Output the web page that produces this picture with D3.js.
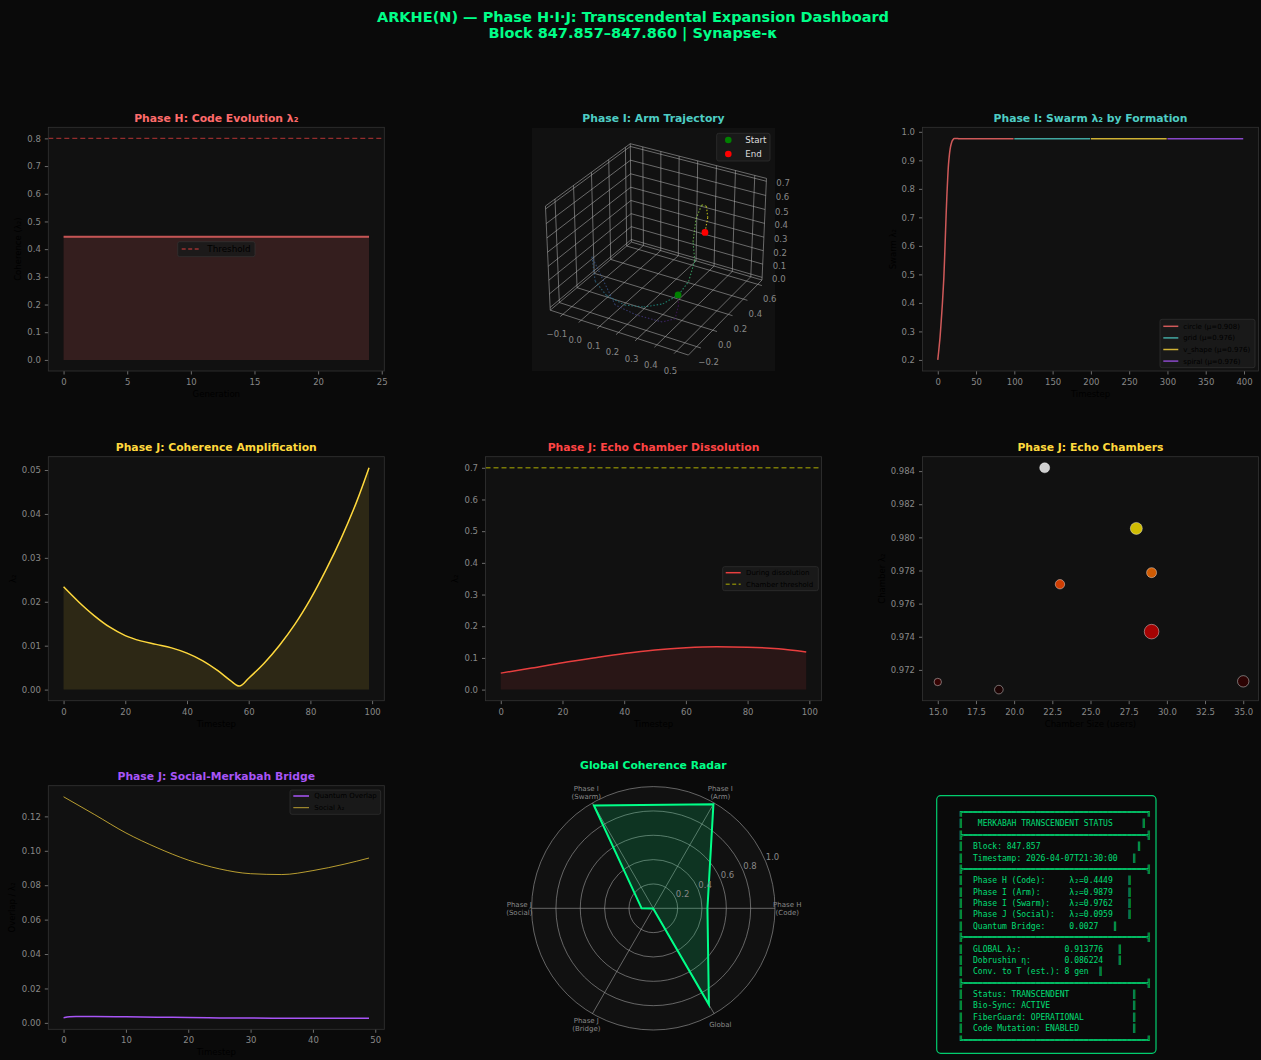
<!DOCTYPE html>
<html><head><meta charset="utf-8">
<script src="https://cdn.jsdelivr.net/npm/d3@7"></script>
<style>
body{margin:0;background:#0a0a0a;}
svg{display:block;font-family:"DejaVu Sans",sans-serif;}
</style>
</head><body>
<svg id="c" width="1261" height="1060"></svg>
<script>
// ---------------- DATA ----------------
const FIG_TITLE = ["ARKHE(N) — Phase H·I·J: Transcendental Expansion Dashboard", "Block 847.857–847.860 | Synapse-κ"];

// Phase H: code evolution
const codeGeneration = [0,1,2,3,4,5,6,7,8,9,10,11,12,13,14,15,16,17,18,19,20,21,22,23,24];
const codeLambda = [0.4449,0.4449,0.4449,0.4449,0.4449,0.4449,0.4449,0.4449,0.4449,0.4449,0.4449,0.4449,0.4449,0.4449,0.4449,0.4449,0.4449,0.4449,0.4449,0.4449,0.4449,0.4449,0.4449,0.4449,0.4449];
const codeThreshold = 0.8;
const codeXTicks = [0,5,10,15,20,25];
const codeYTicks = [0.0,0.1,0.2,0.3,0.4,0.5,0.6,0.7,0.8];

// Phase I: arm trajectory (3D)
const armX = [0.307,0.335,0.377,0.339,0.209,0.078,-0.111,-0.102,0.002,0.118,0.202,0.267,0.300,0.313,0.325,0.323,0.300,0.305,0.331,0.341,0.329];
const armY = [0.171,0.111,-0.029,-0.099,-0.110,-0.077,0.061,0.072,-0.015,-0.050,-0.011,0.075,0.196,0.289,0.336,0.315,0.405,0.463,0.461,0.456,0.453];
const armZ = [0.032,0.000,0.000,0.000,0.000,0.000,0.202,0.017,0.002,0.000,0.000,0.002,0.017,0.069,0.202,0.350,0.461,0.535,0.535,0.461,0.350];
const armXTicks = [-0.1,0.0,0.1,0.2,0.3,0.4,0.5];
const armYTicks = [-0.2,0.0,0.2,0.4,0.6];
const armZTicks = [0.0,0.1,0.2,0.3,0.4,0.5,0.6,0.7];

// Phase I: swarm
const swarmNames = ["circle","grid","v_shape","spiral"];
const swarmMeans = [0.908,0.976,0.976,0.976];
const circleT = [0,1,2,3,4,5,6,7,8,9,10,11,12,13,14,15,16,17,18,19,20,21,22,23,24,25,26,27,28,99];
const circleV = [0.200,0.225,0.252,0.280,0.317,0.356,0.396,0.443,0.493,0.563,0.640,0.715,0.783,0.839,0.885,0.915,0.937,0.952,0.962,0.969,0.973,0.976,0.977,0.977,0.977,0.977,0.977,0.976,0.976,0.976];
const gridT = [100,199];   const gridV = [0.976,0.976];
const vshapeT = [200,299]; const vshapeV = [0.976,0.976];
const spiralT = [300,399]; const spiralV = [0.976,0.976];
const swarmXTicks = [0,50,100,150,200,250,300,350,400];
const swarmYTicks = [0.2,0.3,0.4,0.5,0.6,0.7,0.8,0.9,1.0];

// Phase J: coherence amplification
const ampT = [0,5,10,15,20,25,30,35,40,45,50,54,57,60,65,70,75,80,85,90,95,99];
const ampV = [0.0234,0.0199,0.0168,0.0142,0.0123,0.0111,0.0103,0.0095,0.0083,0.0066,0.0043,0.0021,0.0008,0.0026,0.0060,0.0101,0.0149,0.0206,0.0272,0.0345,0.0428,0.0505];
const ampXTicks = [0,20,40,60,80,100];
const ampYTicks = [0.00,0.01,0.02,0.03,0.04,0.05];

// Phase J: echo chamber dissolution
const dissT = [0,10,20,30,40,50,60,70,80,90,99];
const dissV = [0.052,0.068,0.085,0.100,0.114,0.125,0.132,0.135,0.134,0.129,0.119];
const chamberThreshold = 0.7;
const dissXTicks = [0,20,40,60,80,100];
const dissYTicks = [0.0,0.1,0.2,0.3,0.4,0.5,0.6,0.7];

// Phase J: echo chambers scatter
const chamberSize = [15,19,22,23,28,29,29,35];
const chamberLambda = [0.97127,0.97081,0.98420,0.97717,0.98054,0.97787,0.97431,0.97131];
const chamberHeat = [0.08,0.03,1.00,0.475,0.71,0.53,0.285,0.06];
const chamberMarker = [55,74,100,88,144,100,213,130];
const chamberXTicks = [15,17.5,20,22.5,25,27.5,30,32.5,35];
const chamberYTicks = [0.972,0.974,0.976,0.978,0.980,0.982,0.984];

// Phase J: social-merkabah bridge
const socialT = [0,5,10,15,20,25,30,35,40,45,49];
const socialV = [0.1314,0.1210,0.1104,0.1018,0.0946,0.0895,0.0867,0.0862,0.0885,0.0922,0.0958];
const quantumT = [0,1,2,5,10,15,20,25,30,35,40,45,49];
const quantumV = [0.0030,0.0035,0.0037,0.0037,0.0035,0.0033,0.0031,0.0029,0.0028,0.0027,0.0027,0.0027,0.0027];
const bridgeXTicks = [0,10,20,30,40,50];
const bridgeYTicks = [0.00,0.02,0.04,0.06,0.08,0.10,0.12];

// Radar
const radarLabels = [["Phase H","(Code)"],["Phase I","(Arm)"],["Phase I","(Swarm)"],["Phase J","(Social)"],["Phase J","(Bridge)"],["Global"]];
const radarValues = [0.4449,0.9879,0.9762,0.0959,0.0027,0.913776];
const radarTicks = [0.2,0.4,0.6,0.8,1.0];

// Status panel: [text, column of closing bar]
const statusRows = [
  ["MERKABAH TRANSCENDENT STATUS", "title"],
  ["Block: 847.857", 37],
  ["Timestamp: 2026-04-07T21:30:00", 36],
  ["Phase H (Code):     λ₂=0.4449", 35],
  ["Phase I (Arm):      λ₂=0.9879", 35],
  ["Phase I (Swarm):    λ₂=0.9762", 35],
  ["Phase J (Social):   λ₂=0.0959", 35],
  ["Quantum Bridge:     0.0027", 32],
  ["GLOBAL λ₂:         0.913776", 33],
  ["Dobrushin η:       0.086224", 33],
  ["Conv. to T (est.): 8 gen", 29],
  ["Status: TRANSCENDENT", 36],
  ["Bio-Sync: ACTIVE", 36],
  ["FiberGuard: OPERATIONAL", 36],
  ["Code Mutation: ENABLED", 36]
];
const statusGroups = [[0],[1,2],[3,4,5,6,7],[8,9,10],[11,12,13,14]];

// ---------------- DRAWING ----------------
const svg = d3.select('#c');
svg.append('rect').attr('width',1261).attr('height',1060).attr('fill','#0a0a0a');

svg.selectAll('text.main').data(FIG_TITLE).join('text').attr('class','main')
  .attr('x',633).attr('y',(d,i)=>22+i*16).attr('text-anchor','middle')
  .attr('font-size',14.5).attr('font-weight','bold').attr('fill','#00ff88').text(d=>d);

const padded = (lo,hi,m=0.05)=>{const r=hi-lo; return [lo-r*m, hi+r*m];};
const TITLE_FS = 10.8;

function makePanel(o){
  const g = svg.append('g');
  g.append('rect').attr('x',o.x0).attr('y',o.y0).attr('width',o.w).attr('height',o.h).attr('fill','#111');
  const x = d3.scaleLinear().domain(o.xdom).range([o.x0,o.x0+o.w]);
  const y = d3.scaleLinear().domain(o.ydom).range([o.y0+o.h,o.y0]);
  const plot = g.append('g');
  const ax = g.append('g').attr('transform',`translate(0,${o.y0+o.h})`)
    .call(d3.axisBottom(x).tickValues(o.xticks).tickFormat(o.xfmt).tickSize(3.5).tickPadding(4.5));
  const ay = g.append('g').attr('transform',`translate(${o.x0},0)`)
    .call(d3.axisLeft(y).tickValues(o.yticks).tickFormat(o.yfmt).tickSize(3.5).tickPadding(4));
  [ax,ay].forEach(a=>{
    a.select('.domain').remove();
    a.selectAll('line').attr('stroke','#888').attr('stroke-width',0.8);
    a.selectAll('text').attr('fill','#888').attr('font-size',8.5).attr('font-family','DejaVu Sans');
  });
  g.append('rect').attr('x',o.x0).attr('y',o.y0).attr('width',o.w).attr('height',o.h)
    .attr('fill','none').attr('stroke','#333').attr('stroke-width',0.8);
  g.append('text').attr('x',o.x0+o.w/2).attr('y',o.y0-5.5).attr('text-anchor','middle')
    .attr('font-size',TITLE_FS).attr('font-weight','bold').attr('fill',o.tcolor).text(o.title);
  g.append('text').attr('x',o.x0+o.w/2).attr('y',o.y0+o.h+26).attr('text-anchor','middle')
    .attr('font-size',8.5).attr('fill','#000').text(o.xlabel);
  g.append('text').attr('transform',`translate(${o.ylx},${o.y0+o.h/2}) rotate(-90)`).attr('text-anchor','middle')
    .attr('dy','0.35em').attr('font-size',8.5).attr('fill','#000').text(o.ylabel);
  return {g:plot, x, y};
}

function legend(o){
  const g = svg.append('g');
  g.append('rect').attr('x',o.x).attr('y',o.y).attr('width',o.w).attr('height',o.h).attr('rx',2)
    .attr('fill','#1a1a1a').attr('stroke','#333').attr('stroke-width',0.8).attr('opacity',0.9);
  o.items.forEach((it,i)=>{
    const cy = o.row0 + i*(o.step||0);
    if(it.marker){
      g.append('circle').attr('cx',(o.hx0+o.hx1)/2).attr('cy',cy).attr('r',3.3).attr('fill',it.color);
    } else {
      g.append('line').attr('x1',o.hx0).attr('x2',o.hx1).attr('y1',cy).attr('y2',cy)
        .attr('stroke',it.color).attr('stroke-width',it.w||1.5).attr('stroke-dasharray',it.dash||null).attr('opacity',it.op||1);
    }
    g.append('text').attr('x',o.tx).attr('y',cy).attr('dy','0.35em').attr('font-size',o.fs)
      .attr('fill',o.tc||'#000').text(it.label);
  });
}

const f1 = d3.format('.1f'), f2 = d3.format('.2f'), f3 = d3.format('.3f'), fd = d3.format('d');

// ---- Panel A: Code evolution
{
  const p = makePanel({x0:48.3,y0:127.3,w:336,h:243.7,
    xdom:padded(d3.min(codeGeneration),d3.max(codeGeneration)),
    ydom:padded(0,Math.max(codeThreshold,d3.max(codeLambda))),
    xticks:codeXTicks,yticks:codeYTicks,xfmt:fd,yfmt:f1,
    title:"Phase H: Code Evolution λ₂",tcolor:"#ff6b6b",xlabel:"Generation",ylabel:"Coherence (λ₂)",ylx:18});
  const pts = codeGeneration.map((g,i)=>[g,codeLambda[i]]);
  p.g.append('path').datum(pts).attr('fill','#ff6b6b').attr('opacity',0.15)
    .attr('d',d3.area().x(d=>p.x(d[0])).y0(p.y(0)).y1(d=>p.y(d[1])));
  p.g.append('path').datum(pts).attr('fill','none').attr('stroke','#ff6b6b').attr('stroke-width',2).attr('opacity',0.75)
    .attr('d',d3.line().x(d=>p.x(d[0])).y(d=>p.y(d[1])));
  p.g.append('line').attr('x1',p.x.range()[0]).attr('x2',p.x.range()[1]).attr('y1',p.y(codeThreshold)).attr('y2',p.y(codeThreshold))
    .attr('stroke','#ff4444').attr('stroke-width',1.4).attr('stroke-dasharray','5,3').attr('opacity',0.55);
  legend({x:177.7,y:241.7,w:77.3,h:15,row0:249,hx0:181.7,hx1:200,tx:207.3,fs:8.8,
    items:[{label:"Threshold",color:"#ff4444",dash:"4,2.5",op:0.55,w:1.4}]});
}

// ---- Panel B: 3D arm trajectory
{
  const X0=532,Y0=128,SZ=243;
  svg.append('rect').attr('x',X0).attr('y',Y0).attr('width',SZ).attr('height',SZ).attr('fill','#111');
  svg.append('text').attr('x',X0+SZ/2).attr('y',Y0-6).attr('text-anchor','middle')
    .attr('font-size',TITLE_FS).attr('font-weight','bold').attr('fill','#4ecdc4').text("Phase I: Arm Trajectory");
  const xl=[-0.17,0.56], yl=[-0.3,0.66], zl=[-0.02,0.72];
  const K3 = 1.8294640721620434/Math.sqrt(41);
  const box=[4*K3,4*K3,3*K3];
  const wx=d3.scaleLinear().domain(xl).range([0,box[0]]);
  const wy=d3.scaleLinear().domain(yl).range([0,box[1]]);
  const wz=d3.scaleLinear().domain(zl).range([0,box[2]]);
  const el=30*Math.PI/180, az=-60*Math.PI/180;
  const eye=[Math.cos(el)*Math.cos(az),Math.cos(el)*Math.sin(az),Math.sin(el)];
  const cross=(a,b)=>[a[1]*b[2]-a[2]*b[1],a[2]*b[0]-a[0]*b[2],a[0]*b[1]-a[1]*b[0]];
  const nrm=a=>{const l=Math.hypot(...a);return a.map(v=>v/l);};
  const dot=(a,b)=>a[0]*b[0]+a[1]*b[1]+a[2]*b[2];
  const vu=nrm(cross([0,0,1],eye)), vv=cross(eye,vu), vw=eye;
  const DIST=10, S3=1385, C3=[658,244.5];
  const P=(x,y,z)=>{
    const d=[wx(x)-box[0]/2,wy(y)-box[1]/2,wz(z)-box[2]/2];
    const qz=dot(vw,d)-DIST;
    return [C3[0]+S3*dot(vu,d)/(-qz), C3[1]-S3*dot(vv,d)/(-qz)];
  };
  const g=svg.append('g');
  const [x0,x1]=xl,[y0,y1]=yl,[z0,z1]=zl;
  const segs=[];
  armXTicks.forEach(t=>{segs.push([[t,y1,z0],[t,y1,z1]]); segs.push([[t,y0,z0],[t,y1,z0]]);});
  armYTicks.forEach(t=>{segs.push([[x0,t,z0],[x0,t,z1]]); segs.push([[x0,t,z0],[x1,t,z0]]);});
  armZTicks.forEach(t=>{segs.push([[x0,y0,t],[x0,y1,t]]); segs.push([[x0,y1,t],[x1,y1,t]]);});
  const edges=[[[x0,y0,z0],[x0,y1,z0]],[[x0,y1,z0],[x1,y1,z0]],[[x0,y0,z1],[x0,y1,z1]],[[x0,y1,z1],[x1,y1,z1]],
    [[x0,y0,z0],[x0,y0,z1]],[[x0,y1,z0],[x0,y1,z1]],[[x1,y1,z0],[x1,y1,z1]],[[x0,y0,z0],[x1,y0,z0]],[[x1,y0,z0],[x1,y1,z0]]];
  const ln=d3.line();
  g.selectAll('path.grid').data(segs).join('path').attr('d',s=>ln(s.map(p=>P(...p))))
    .attr('stroke','#b0b0b0').attr('stroke-width',0.8).attr('opacity',0.7).attr('fill','none');
  g.selectAll('path.edge').data(edges).join('path').attr('d',s=>ln(s.map(p=>P(...p))))
    .attr('stroke','#b0b0b0').attr('stroke-width',0.8).attr('opacity',0.7).attr('fill','none');
  const xt=armXTicks.map(t=>[[t,y0,z0],[t,y0-(y1-y0)*0.03,z0]]);
  const yt=armYTicks.map(t=>[[x1,t,z0],[x1+(x1-x0)*0.03,t,z0]]);
  g.selectAll('path.tk').data(xt.concat(yt)).join('path').attr('d',s=>ln(s.map(p=>P(...p))))
    .attr('stroke','#b0b0b0').attr('stroke-width',0.8).attr('opacity',0.7);
  const fm=d3.format('.1f');
  armXTicks.forEach(t=>{const p=P(t,y0,z0); g.append('text').attr('x',p[0]-6).attr('y',p[1]+23).attr('text-anchor','middle').attr('font-size',8.5).attr('fill','#888').text(fm(t));});
  armYTicks.forEach(t=>{const p=P(x1,t,z0); g.append('text').attr('x',p[0]+12).attr('y',p[1]+18).attr('text-anchor','middle').attr('font-size',8.5).attr('fill','#888').text(fm(t));});
  armZTicks.forEach(t=>{const p=P(x1,y1,t); g.append('text').attr('x',p[0]+10).attr('y',p[1]+5).attr('text-anchor','start').attr('font-size',8.5).attr('fill','#888').text(fm(t));});
  const n=armX.length;
  const tp=armX.map((x,i)=>P(x,armY[i],armZ[i]));
  for(let i=0;i<n-1;i++){
    g.append('path').attr('d',ln([tp[i],tp[i+1]])).attr('stroke',d3.interpolateViridis(i/(n-2)))
      .attr('stroke-width',1.1).attr('stroke-dasharray','1.5,1.8').attr('opacity',0.75).attr('fill','none');
  }
  g.append('circle').attr('cx',tp[0][0]).attr('cy',tp[0][1]).attr('r',3.4).attr('fill','#008000');
  g.append('circle').attr('cx',tp[n-1][0]).attr('cy',tp[n-1][1]).attr('r',3.4).attr('fill','#ff0000');
  legend({x:716.7,y:133.3,w:53.3,h:27.7,row0:140,step:14,hx0:724,hx1:732.6,tx:745.3,fs:8.7,tc:'#ddd',
    items:[{label:"Start",color:"#008000",marker:true},{label:"End",color:"#ff0000",marker:true}]});
}

// ---- Panel C: Swarm
{
  const allT=circleT.concat(gridT,vshapeT,spiralT), allV=circleV.concat(gridV,vshapeV,spiralV);
  const p = makePanel({x0:922.5,y0:127.3,w:336,h:243.7,
    xdom:padded(d3.min(allT),d3.max(allT)), ydom:padded(d3.min(allV),d3.max(allV)),
    xticks:swarmXTicks,yticks:swarmYTicks,xfmt:fd,yfmt:f1,
    title:"Phase I: Swarm λ₂ by Formation",tcolor:"#4ecdc4",xlabel:"Timestep",ylabel:"Swarm λ₂",ylx:893});
  const series=[[circleT,circleV,'#ff6b6b'],[gridT,gridV,'#4ecdc4'],[vshapeT,vshapeV,'#ffd93d'],[spiralT,spiralV,'#a855f7']];
  const line=d3.line().x(d=>p.x(d[0])).y(d=>p.y(d[1])).curve(d3.curveMonotoneX);
  series.forEach(s=>{
    p.g.append('path').datum(s[0].map((t,i)=>[t,s[1][i]])).attr('d',line).attr('fill','none')
      .attr('stroke',s[2]).attr('stroke-width',1.5).attr('opacity',0.8);
  });
  legend({x:1160,y:319.3,w:95,h:48.4,row0:326.3,step:11.6,hx0:1163.3,hx1:1178.3,tx:1183.3,fs:7,
    items:swarmNames.map((nm,i)=>({label:`${nm} (μ=${swarmMeans[i].toFixed(3)})`,color:series[i][2],op:0.8}))});
}

// ---- Panel D: Coherence amplification
{
  const p = makePanel({x0:48.3,y0:456.7,w:336,h:244,
    xdom:padded(d3.min(ampT),d3.max(ampT)), ydom:padded(0,d3.max(ampV)),
    xticks:ampXTicks,yticks:ampYTicks,xfmt:fd,yfmt:f2,
    title:"Phase J: Coherence Amplification",tcolor:"#ffd93d",xlabel:"Timestep",ylabel:"λ₂",ylx:13});
  const pts=ampT.map((t,i)=>[t,ampV[i]]);
  const crv=d3.curveCatmullRom.alpha(0.5);
  p.g.append('path').datum(pts).attr('fill','#ffd93d').attr('opacity',0.12)
    .attr('d',d3.area().x(d=>p.x(d[0])).y0(p.y(0)).y1(d=>p.y(d[1])).curve(crv));
  p.g.append('path').datum(pts).attr('fill','none').attr('stroke','#ffd93d').attr('stroke-width',1.5)
    .attr('d',d3.line().x(d=>p.x(d[0])).y(d=>p.y(d[1])).curve(crv));
}

// ---- Panel E: Echo chamber dissolution
{
  const p = makePanel({x0:485.5,y0:456.7,w:336,h:244,
    xdom:padded(d3.min(dissT),d3.max(dissT)), ydom:padded(0,Math.max(chamberThreshold,d3.max(dissV))),
    xticks:dissXTicks,yticks:dissYTicks,xfmt:fd,yfmt:f1,
    title:"Phase J: Echo Chamber Dissolution",tcolor:"#ff4444",xlabel:"Timestep",ylabel:"λ₂",ylx:455});
  const pts=dissT.map((t,i)=>[t,dissV[i]]);
  p.g.append('path').datum(pts).attr('fill','#ff4444').attr('opacity',0.1)
    .attr('d',d3.area().x(d=>p.x(d[0])).y0(p.y(0)).y1(d=>p.y(d[1])).curve(d3.curveMonotoneX));
  p.g.append('path').datum(pts).attr('fill','none').attr('stroke','#ff4444').attr('stroke-width',1.5).attr('opacity',0.9)
    .attr('d',d3.line().x(d=>p.x(d[0])).y(d=>p.y(d[1])).curve(d3.curveMonotoneX));
  p.g.append('line').attr('x1',p.x.range()[0]).attr('x2',p.x.range()[1]).attr('y1',p.y(chamberThreshold)).attr('y2',p.y(chamberThreshold))
    .attr('stroke','#bfbf00').attr('stroke-width',1.4).attr('stroke-dasharray','5,3').attr('opacity',0.6);
  legend({x:722.7,y:566.7,w:95.6,h:24,row0:572.7,step:11.6,hx0:725.7,hx1:740.7,tx:746,fs:7,
    items:[{label:"During dissolution",color:"#ff4444",op:0.9},{label:"Chamber threshold",color:"#bfbf00",dash:"4,2.5",op:0.6}]});
}

// ---- Panel F: Echo chambers scatter
{
  const p = makePanel({x0:922.5,y0:456.7,w:336,h:244,
    xdom:padded(d3.min(chamberSize),d3.max(chamberSize)), ydom:padded(d3.min(chamberLambda),d3.max(chamberLambda)),
    xticks:chamberXTicks,yticks:chamberYTicks,xfmt:f1,yfmt:f3,
    title:"Phase J: Echo Chambers",tcolor:"#ffd93d",xlabel:"Chamber Size (users)",ylabel:"Chamber λ₂",ylx:882});
  const hot=d3.scaleLinear().domain([0,0.365,0.746,1]).range(['#0b0000','#ff0000','#ffff00','#ffffff']);
  const rs=d3.scaleSqrt().domain([0,100]).range([0,5]);
  p.g.selectAll('circle').data(chamberSize).join('circle')
    .attr('cx',d=>p.x(d)).attr('cy',(d,i)=>p.y(chamberLambda[i])).attr('r',(d,i)=>rs(chamberMarker[i]))
    .attr('fill',(d,i)=>hot(chamberHeat[i])).attr('fill-opacity',0.8)
    .attr('stroke','#ffffff').attr('stroke-opacity',0.5).attr('stroke-width',0.8);
}

// ---- Panel G: Social-Merkabah bridge
{
  const allV=socialV.concat(quantumV), allT=socialT.concat(quantumT);
  const p = makePanel({x0:48.3,y0:785.7,w:336,h:243.6,
    xdom:padded(d3.min(allT),d3.max(allT)), ydom:padded(d3.min(allV),d3.max(allV)),
    xticks:bridgeXTicks,yticks:bridgeYTicks,xfmt:fd,yfmt:f2,
    title:"Phase J: Social-Merkabah Bridge",tcolor:"#a855f7",xlabel:"Timestep",ylabel:"Overlap / λ₂",ylx:12});
  const line=d3.line().x(d=>p.x(d[0])).y(d=>p.y(d[1])).curve(d3.curveMonotoneX);
  p.g.append('path').datum(quantumT.map((t,i)=>[t,quantumV[i]])).attr('d',line).attr('fill','none')
    .attr('stroke','#a855f7').attr('stroke-width',1.5);
  p.g.append('path').datum(socialT.map((t,i)=>[t,socialV[i]])).attr('d',line).attr('fill','none')
    .attr('stroke','#ffd93d').attr('stroke-width',1).attr('opacity',0.7);
  legend({x:290,y:790,w:90.7,h:24.3,row0:796,step:11.7,hx0:293.3,hx1:309,tx:314.3,fs:7,
    items:[{label:"Quantum Overlap",color:"#a855f7"},{label:"Social λ₂",color:"#ffd93d",op:0.7,w:1}]});
}

// ---- Radar
{
  const cx=653.3, cy=908.3;
  const rr=d3.scaleLinear().domain([0,1]).range([0,121.7]);
  const N=radarLabels.length;
  const ang=i=>i*2*Math.PI/N;
  const g=svg.append('g').attr('transform',`translate(${cx},${cy})`);
  svg.append('text').attr('x',cx).attr('y',768.5).attr('text-anchor','middle').attr('font-size',TITLE_FS)
    .attr('font-weight','bold').attr('fill','#00ff88').text("Global Coherence Radar");
  g.append('circle').attr('r',rr(1)).attr('fill','#111');
  g.selectAll('circle.ring').data(radarTicks).join('circle').attr('class','ring').attr('r',d=>rr(d))
    .attr('fill','none').attr('stroke','#a0a0a0').attr('stroke-width',0.8).attr('opacity',0.75);
  g.selectAll('line.spoke').data(radarLabels).join('line').attr('class','spoke')
    .attr('x2',(d,i)=>rr(1)*Math.cos(ang(i))).attr('y2',(d,i)=>-rr(1)*Math.sin(ang(i)))
    .attr('stroke','#a0a0a0').attr('stroke-width',0.8).attr('opacity',0.75);
  const rl=d3.lineRadial().angle((d,i)=>Math.PI/2-ang(i)).radius(d=>rr(d)).curve(d3.curveLinearClosed);
  g.append('path').datum(radarValues).attr('d',rl).attr('fill','#00ff88').attr('fill-opacity',0.15)
    .attr('stroke','#00ff88').attr('stroke-width',2);
  const la=22.5*Math.PI/180;
  g.selectAll('text.rt').data(radarTicks).join('text').attr('class','rt')
    .attr('x',d=>rr(d)*Math.cos(la)).attr('y',d=>-rr(d)*Math.sin(la)-2)
    .attr('font-size',8.5).attr('fill','#888').text(d=>d.toFixed(1));
  radarLabels.forEach((lines,i)=>{
    const R=134, x=R*Math.cos(ang(i)), y=-R*Math.sin(ang(i));
    const t=g.append('text').attr('text-anchor','middle').attr('font-size',7).attr('fill','#888');
    lines.forEach((s,j)=>{
      t.append('tspan').attr('x',x).attr('y',y+(j-(lines.length-1)/2)*8.4+2.5).text(s);
    });
  });
}

// ---- Status box
{
  svg.append('rect').attr('x',936.7).attr('y',795.7).attr('width',219.3).attr('height',257.6).attr('rx',4)
    .attr('fill','#0a0a0a').attr('stroke','#00ff88').attr('stroke-opacity',0.8).attr('stroke-width',1.2);
  const W=38;
  const lines=["╔"+"═".repeat(W)+"╗"];
  statusGroups.forEach((grp,gi)=>{
    grp.forEach(k=>{
      const [txt,col]=statusRows[k];
      if(col==="title") lines.push(("║   "+txt).padEnd(38)+"║");
      else lines.push(("║  "+txt).padEnd(col)+"║");
    });
    lines.push(gi<statusGroups.length-1 ? "╠"+"═".repeat(W)+"╣" : "╚"+"═".repeat(W)+"╝");
  });
  svg.selectAll('text.st').data(lines).join('text').attr('class','st')
    .attr('x',958.6).attr('y',(d,i)=>812.3+i*11.37+2.8)
    .attr('font-family','"DejaVu Sans Mono",monospace').attr('font-size',8)
    .attr('fill','#00ff88').attr('opacity',0.85).attr('xml:space','preserve').style('white-space','pre').text(d=>d);
}
</script>
</body></html>
